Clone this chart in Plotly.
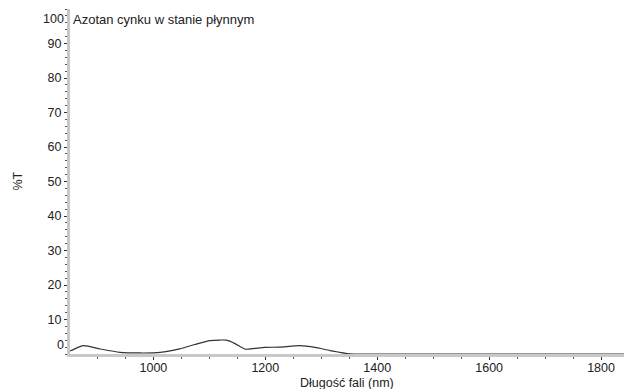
import plotly.graph_objects as go

wavelength = [851, 853, 875, 905, 940, 976, 1012, 1047, 1074, 1101, 1119, 1131, 1146,
              1164, 1182, 1199, 1226, 1262, 1289, 1316, 1351, 1400, 1500, 1600, 1700, 1800, 1841]
transmittance = [0.9, 1.0, 2.4, 1.45, 0.5, 0.3, 0.45, 1.5, 2.75, 3.9, 4.05, 4.0, 3.0,
                 1.4, 1.65, 1.9, 2.0, 2.4, 1.9, 1.0, 0.05, 0, 0, 0, 0, 0, 0]

x_ticks = [1000, 1200, 1400, 1600, 1800]
y_ticks = [10, 20, 30, 40, 50, 60, 70, 80, 90]

title_text = "Azotan cynku w stanie płynnym"
x_title = "Długość fali (nm)"
y_title = "%T"

font = dict(family="Liberation Sans, Arial, sans-serif", size=12.5, color="#222")
tfont = dict(family="Liberation Sans, Arial, sans-serif", size=13, color="#222")

fig = go.Figure()
fig.add_trace(go.Scatter(x=wavelength, y=transmittance, mode="lines",
                         line=dict(color="#333", width=1.2, shape="spline", smoothing=0.6),
                         hoverinfo="skip", showlegend=False))

fig.update_layout(
    width=624, height=389,
    margin=dict(l=70, r=0, t=9, b=35),
    paper_bgcolor="white", plot_bgcolor="white",
    font=font,
    xaxis=dict(range=[851, 1841], tickvals=x_ticks, ticktext=[str(v) for v in x_ticks],
               showgrid=False, zeroline=False, showline=True, linecolor="#c8c8c8", linewidth=3,
               ticks="outside", ticklen=3, tickcolor="#333", tickwidth=1,
               ticklabelstandoff=-3,
               minor=dict(dtick=50, tick0=0, ticks="outside", ticklen=2, tickcolor="#555"),
               tickfont=font),
    yaxis=dict(range=[0, 100], tickvals=y_ticks, ticktext=[str(v) for v in y_ticks],
               showgrid=False, zeroline=False, showline=True, linecolor="#c8c8c8", linewidth=3,
               ticks="outside", ticklen=3, tickcolor="#333", tickwidth=1,
               ticklabelstandoff=0,
               minor=dict(dtick=2, tick0=0, ticks="outside", ticklen=2, tickcolor="#555"),
               tickfont=font),
)

fig.add_annotation(text="100", xref="paper", x=0, xanchor="right", xshift=-4,
                   yref="y", y=100, yanchor="top", yshift=-1, showarrow=False, font=font)
fig.add_annotation(text="0", xref="paper", x=0, xanchor="right", xshift=-4,
                   yref="y", y=0, yanchor="bottom", yshift=0, showarrow=False, font=font)
fig.add_annotation(text=title_text, xref="paper", x=0, xanchor="left", xshift=1,
                   yref="y", y=100, yanchor="top", yshift=-1, showarrow=False, font=tfont)
fig.add_annotation(text=x_title, xref="paper", x=0.5, xanchor="center",
                   yref="paper", y=0, yanchor="top", yshift=-20, showarrow=False, font=font)
fig.add_annotation(text=y_title, xref="paper", x=0, xanchor="center", xshift=-53,
                   yref="paper", y=0.5, yanchor="middle", textangle=-90, showarrow=False, font=font)

fig.write_html("out.html", config={"displayModeBar": False},
               post_script="document.body.style.margin='0';")
